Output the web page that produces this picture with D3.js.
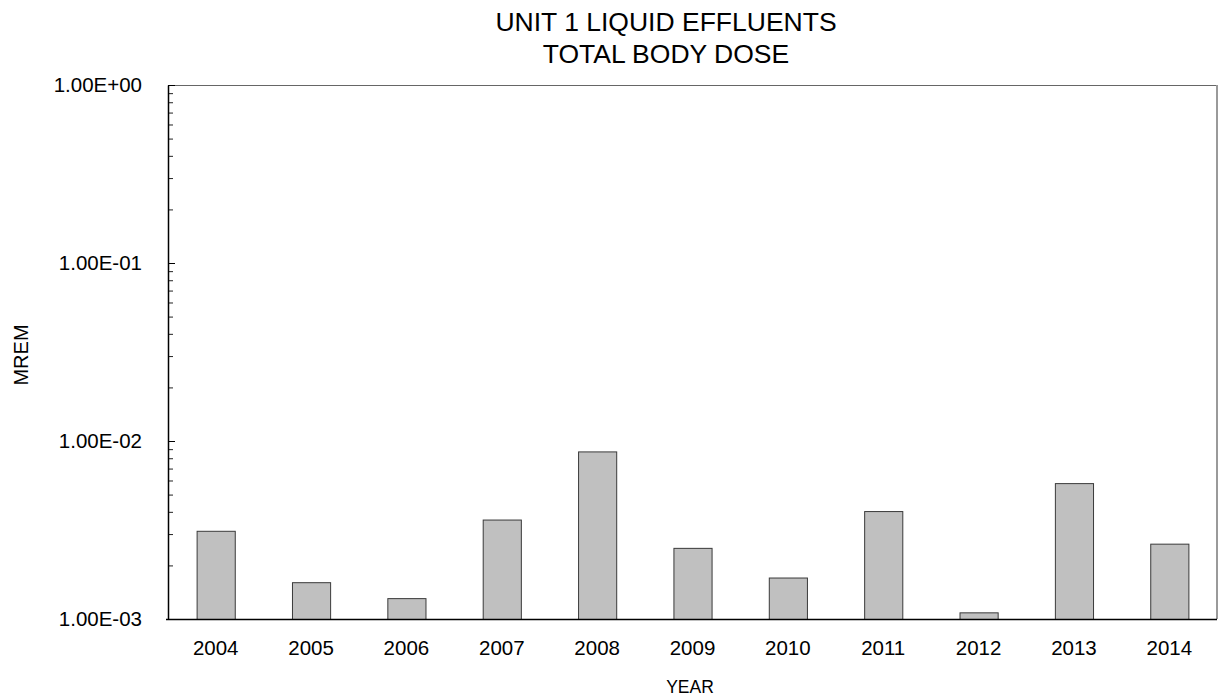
<!DOCTYPE html>
<html>
<head>
<meta charset="utf-8">
<script src="https://cdn.jsdelivr.net/npm/d3@7"></script>
<style>
  body { margin: 0; background: #fff; }
  svg { display: block; font-family: "Liberation Sans", Arial, sans-serif; }
</style>
</head>
<body>
<svg id="chart" width="1221" height="700"></svg>
<script>
const years = ["2004","2005","2006","2007","2008","2009","2010","2011","2012","2013","2014"];
const doses = [3.13e-3, 1.61e-3, 1.31e-3, 3.62e-3, 8.74e-3, 2.51e-3, 1.71e-3, 4.04e-3, 1.09e-3, 5.80e-3, 2.65e-3];
const yTickValues = [1e-3, 1e-2, 1e-1, 1];
const yTickLabels = ["1.00E-03", "1.00E-02", "1.00E-01", "1.00E+00"];
const titleLines = ["UNIT 1 LIQUID EFFLUENTS", "TOTAL BODY DOSE"];
const xTitle = "YEAR";
const yTitle = "MREM";

const svg = d3.select("#chart");
const m = { left: 168, right: 1217, top: 85, bottom: 619 };

const x = d3.scaleBand().domain(years).range([m.left, m.right]).paddingInner(0.6).paddingOuter(0.3);
const y = d3.scaleLog().domain([1e-3, 1]).range([m.bottom, m.top]);

// bars
svg.append("g").selectAll("rect").data(years).join("rect")
  .attr("x", d => x(d) + 0.5)
  .attr("y", (d, i) => y(doses[i]) + 0.5)
  .attr("width", x.bandwidth())
  .attr("height", (d, i) => y(1e-3) - y(doses[i]))
  .attr("fill", "#c0c0c0")
  .attr("stroke", "#3a3a3a")
  .attr("stroke-width", 1);

// frame: top & right
svg.append("line").attr("x1", m.left).attr("x2", m.right).attr("y1", m.top + 0.5).attr("y2", m.top + 0.5)
  .attr("stroke", "#666").attr("stroke-width", 1);
svg.append("line").attr("x1", m.right).attr("x2", m.right).attr("y1", m.top).attr("y2", m.bottom)
  .attr("stroke", "#9a9a9a").attr("stroke-width", 2);

// minor ticks (inside)
const minor = [];
for (let e = -3; e < 0; e++) for (let k = 2; k <= 9; k++) minor.push(k * Math.pow(10, e));
const yMinor = d3.axisRight(y).tickValues(minor).tickSize(5).tickFormat("");
const gMinor = svg.append("g").attr("transform", `translate(${m.left},0)`).call(yMinor);
gMinor.select(".domain").remove();
gMinor.selectAll("line").attr("stroke", "#222");

// major y axis
const yAxis = d3.axisLeft(y).tickValues(yTickValues).tickSize(0).tickPadding(26)
  .tickFormat((d, i) => yTickLabels[i]);
const gy = svg.append("g").attr("transform", `translate(${m.left},0)`).call(yAxis);
gy.select(".domain").attr("stroke", "#000").attr("stroke-width", 1.5);
gy.selectAll("text").attr("font-size", 20.5).attr("fill", "#000")
  .attr("font-family", "'Liberation Sans', Arial, sans-serif");
const gMaj = svg.append("g").attr("transform", `translate(${m.left},0)`)
  .call(d3.axisRight(y).tickValues(yTickValues).tickSize(7).tickFormat(""));
gMaj.select(".domain").remove();
gMaj.selectAll("line").attr("stroke", "#000");

// x axis
const xAxis = d3.axisBottom(x).tickSize(0).tickPadding(21);
const gx = svg.append("g").attr("transform", `translate(0,${m.bottom})`).call(xAxis);
gx.select(".domain").attr("stroke", "#000").attr("stroke-width", 1.5)
  .attr("d", `M${m.left - 2},0.5H${m.right}`);
gx.selectAll("text").attr("font-size", 20.5).attr("fill", "#000")
  .attr("font-family", "'Liberation Sans', Arial, sans-serif");

// titles
svg.append("text").attr("x", 666).attr("y", 31).attr("text-anchor", "middle")
  .attr("font-size", 26.5).text(titleLines[0]);
svg.append("text").attr("x", 666).attr("y", 63).attr("text-anchor", "middle")
  .attr("font-size", 26.5).text(titleLines[1]);
svg.append("text").attr("x", 690).attr("y", 693).attr("text-anchor", "middle")
  .attr("font-size", 17.5).text(xTitle);
svg.append("text").attr("transform", "translate(28,355) rotate(-90)").attr("text-anchor", "middle")
  .attr("font-size", 20).text(yTitle);
</script>
</body>
</html>
